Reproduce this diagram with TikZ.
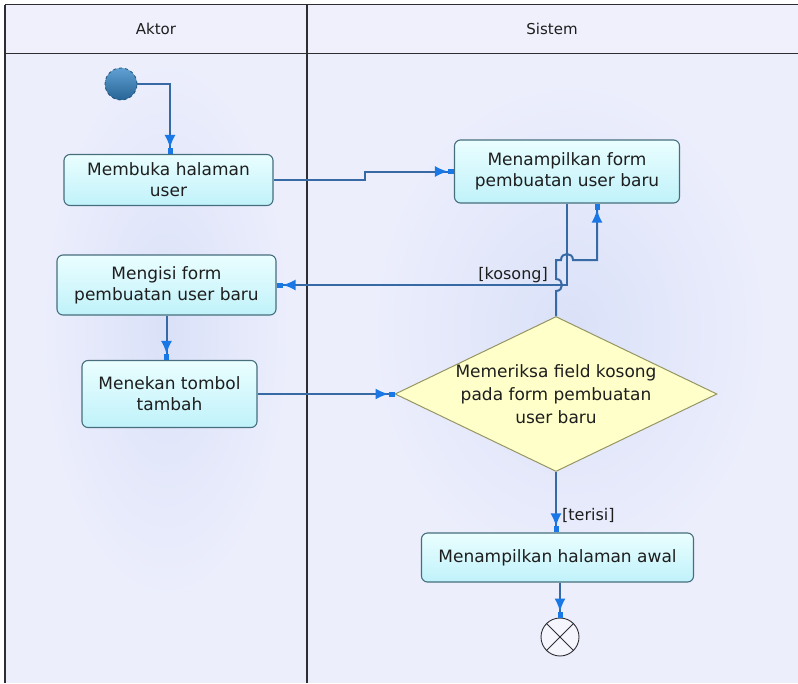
\documentclass[tikz,border=0pt]{standalone}
\usepackage{fontspec}
\setmainfont{DejaVu Sans}
\usetikzlibrary{arrows.meta,shapes.geometric}

\definecolor{lanebg}{RGB}{236,238,252}
\definecolor{headbg}{RGB}{239,240,252}
\definecolor{glow}{RGB}{218,225,248}
\definecolor{framec}{RGB}{45,45,50}
\definecolor{boxline}{RGB}{70,110,125}
\definecolor{boxtop}{RGB}{234,254,255}
\definecolor{boxbot}{RGB}{192,242,250}
\definecolor{flowline}{RGB}{55,105,165}
\definecolor{tipblue}{RGB}{25,120,230}
\definecolor{decfill}{RGB}{255,255,202}
\definecolor{decline}{RGB}{150,150,100}
\definecolor{txt}{RGB}{30,30,30}
\definecolor{startdark}{RGB}{40,100,150}
\definecolor{startlight}{RGB}{95,160,210}

\begin{document}
\begin{tikzpicture}[x=1pt,y=-1pt,
  every node/.style={text=txt},
  bodyfont/.style={font=\fontsize{17}{21}\selectfont},
  actbox/.style={bodyfont, draw=boxline, line width=1.1pt, rounded corners=6pt,
    top color=boxtop, bottom color=boxbot, align=center, inner sep=0pt},
  decision/.style={diamond, draw=decline, line width=1pt, fill=decfill, inner sep=0pt},
  lanehead/.style={font=\fontsize{15}{18}\selectfont},
  guard/.style={font=\fontsize{16}{19}\selectfont, inner sep=1pt},
  flow/.style={draw=flowline, line width=2pt,
    -{Latex[length=13pt,width=11pt,color=tipblue]Rectangle[length=6pt,width=5pt,color=tipblue]}},
  lanerule/.style={draw=framec, line width=1.5pt}
]
% canvas and lanes
\useasboundingbox (0,0) rectangle (798,683);
\fill[white] (0,0) rectangle (798,683);
\fill[lanebg] (5,4.5) rectangle (798,683);
\shade[inner color=glow, outer color=lanebg] (166,330) ellipse (125 and 270);
\shade[inner color=glow, outer color=lanebg] (570,330) ellipse (200 and 250);
\fill[headbg] (5,4.5) rectangle (798,53.5);
\draw[lanerule] (5,4.5) -- (798,4.5);
\draw[lanerule] (5,53.5) -- (798,53.5);
\draw[lanerule] (5,4.5) -- (5,683);
\draw[lanerule] (307,4.5) -- (307,683);
\node[lanehead] (hAktor) at (156,29) {Aktor};
\node[lanehead] (hSistem) at (552,29) {Sistem};

% activities
\node[circle, draw=startdark!80!black, dashed, line width=0.8pt, minimum size=32pt,
  top color=startlight, bottom color=startdark] (start) at (121,84) {};
\node[actbox, minimum width=209pt, minimum height=51pt] (b1) at (168.5,180)
  {Membuka halaman\\user};
\node[actbox, minimum width=225pt, minimum height=63pt] (b2) at (567,171.5)
  {Menampilkan form\\pembuatan user baru};
\node[actbox, minimum width=219pt, minimum height=60pt] (b3) at (166.5,285)
  {Mengisi form\\pembuatan user baru};
\node[actbox, minimum width=175pt, minimum height=67pt] (b4) at (169.5,394)
  {Menekan tombol\\tambah};
\node[decision, minimum width=322pt, minimum height=155pt] (dec) at (556,394) {};
\node[bodyfont, font=\fontsize{17}{23}\selectfont, align=center] (dectext) at (dec.center)
  {Memeriksa field kosong\\pada form pembuatan\\user baru};
\node[actbox, minimum width=272pt, minimum height=49pt] (b5) at (557.5,557.5)
  {Menampilkan halaman awal};
\node[circle, draw=framec, line width=0.9pt, fill=lanebg!60!white, minimum size=38pt] (endn) at (560,637) {};
\draw[framec, line width=0.9pt] (endn.north west) -- (endn.south east);
\draw[framec, line width=0.9pt] (endn.north east) -- (endn.south west);

% control flow
\draw[flow] (start.east) -| ([xshift=1.5pt]b1.north);
\draw[flow] (b1.east) -- ++(91,0) |- (b2.west);
\draw[flow] (b2.south) |- (b3.east);
\draw[flow] (dec.north) -- (556,291)
  .. controls (564,291) and (564,279) .. (556,279)
  -- (556,260) -- (561,260)
  .. controls (561,252) and (573,252) .. (573,260)
  -- (597,260) -- ([xshift=30pt]b2.south);
\node[guard, anchor=south east] (kosong) at (549,284) {[kosong]};
\draw[flow] (b3.south) -- (b3.south |- b4.north);
\draw[flow] (b4.east) -- (dec.west);
\draw[flow] (dec.south) -- (dec.south |- b5.north);
\node[guard, anchor=west] (terisi) at (561,515) {[terisi]};
\draw[flow] (b5.south -| endn.north) -- (endn.north);
\end{tikzpicture}
\end{document}
